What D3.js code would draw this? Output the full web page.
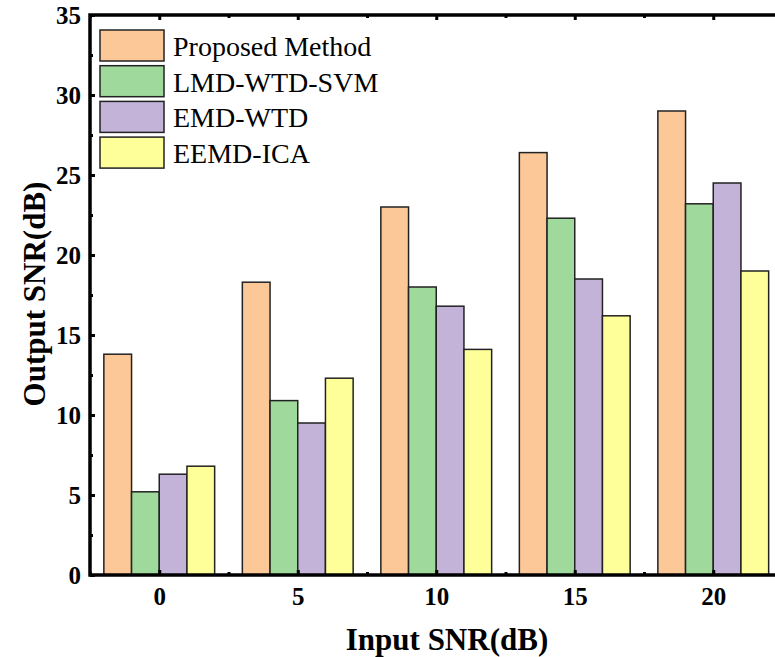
<!DOCTYPE html>
<html>
<head>
<meta charset="utf-8">
<script src="https://cdn.jsdelivr.net/npm/d3@7"></script>
<style>
  body { margin: 0; background: #fff; }
  svg { display: block; }
  text { font-family: 'Liberation Serif', 'Times New Roman', serif; }
</style>
</head>
<body>
<svg id="chart" width="775" height="657"></svg>
<script>
// input SNR (x categories)
var inputSNR = [0, 5, 10, 15, 20]
var methods = ['Proposed Method', 'LMD-WTD-SVM', 'EMD-WTD', 'EEMD-ICA']
var colors = ['#fdc898', '#9fd99c', '#c3b3d9', '#ffff99']

// output SNR per method
var proposed = [13.8, 18.3, 23.0, 26.4, 29.0]
var lmdWtdSvm = [5.2, 10.9, 18.0, 22.3, 23.2]
var emdWtd = [6.3, 9.5, 16.8, 18.5, 24.5]
var eemdIca = [6.8, 12.3, 14.1, 16.2, 19.0]
var series = [proposed, lmdWtdSvm, emdWtd, eemdIca]

var yTicks = [0, 5, 10, 15, 20, 25, 30, 35]
var xTicks = [0, 5, 10, 15, 20]

var svg = d3.select('#chart')
var plotLeft = 90, plotTop = 15, plotBottom = 575
var x = d3.scaleLinear().domain([-2.5, 22.5]).range([plotLeft, plotLeft + 692.5])
var y = d3.scaleLinear().domain([0, 35]).range([plotBottom, plotTop])

// bars: each bar 1 unit wide, group spans -2..2 around the category
var barW = 1
series.forEach(function(vals, si) {
  svg.append('g')
    .selectAll('rect')
    .data(vals)
    .enter()
    .append('rect')
    .attr('x', function(d, i) { return x(inputSNR[i] - 2 + si * barW) })
    .attr('y', function(d) { return y(d) })
    .attr('width', x(barW) - x(0))
    .attr('height', function(d) { return y(0) - y(d) })
    .attr('fill', colors[si])
    .attr('stroke', '#222')
    .attr('stroke-width', 1.5)
})

// axes with inward ticks
function styleAxis(g) {
  g.select('.domain').remove()
  g.selectAll('.tick line').attr('stroke', '#000').attr('stroke-width', 3)
  g.selectAll('.tick text')
    .attr('font-size', 25)
    .attr('font-weight', 'bold')
    .attr('font-family', "'Liberation Serif', serif")
    .attr('fill', '#000')
}
var minorX = d3.range(-2.5, 23, 2.5).filter(function(v) { return v % 5 != 0 })
var minorY = d3.range(2.5, 35, 5)

var gx = svg.append('g')
  .attr('transform', 'translate(0,' + plotBottom + ')')
  .call(d3.axisBottom(x).tickValues(xTicks).tickSize(-5).tickPadding(11).tickFormat(d3.format('d')))
gx.call(styleAxis)
gx.selectAll('.tick text').attr('dy', '0.75em')

svg.append('g')
  .attr('transform', 'translate(0,' + plotBottom + ')')
  .call(d3.axisBottom(x).tickValues(minorX).tickSize(-3).tickFormat(''))
  .call(styleAxis)

svg.append('g')
  .attr('transform', 'translate(0,' + plotTop + ')')
  .call(d3.axisTop(x).tickValues(xTicks).tickSize(-5).tickFormat(''))
  .call(styleAxis)
svg.append('g')
  .attr('transform', 'translate(0,' + plotTop + ')')
  .call(d3.axisTop(x).tickValues(minorX).tickSize(-3).tickFormat(''))
  .call(styleAxis)

var gy = svg.append('g')
  .attr('transform', 'translate(' + plotLeft + ',0)')
  .call(d3.axisLeft(y).tickValues(yTicks).tickSize(-5).tickPadding(9))
gy.call(styleAxis)
gy.selectAll('.tick text').attr('dy', '0.35em')

svg.append('g')
  .attr('transform', 'translate(' + plotLeft + ',0)')
  .call(d3.axisLeft(y).tickValues(minorY).tickSize(-3).tickFormat(''))
  .call(styleAxis)

// frame
svg.append('rect')
  .attr('x', x.range()[0])
  .attr('y', plotTop)
  .attr('width', x.range()[1] - x.range()[0])
  .attr('height', plotBottom - plotTop)
  .attr('fill', 'none')
  .attr('stroke', '#000')
  .attr('stroke-width', 3.5)

// legend
var legend = svg.append('g').attr('transform', 'translate(100,30)')
methods.forEach(function(m, i) {
  legend.append('rect')
    .attr('x', 0)
    .attr('y', i * 35.7)
    .attr('width', 64)
    .attr('height', 31)
    .attr('fill', colors[i])
    .attr('stroke', '#222')
    .attr('stroke-width', 1.5)
  legend.append('text')
    .attr('x', 73)
    .attr('y', i * 35.7 + 16)
    .attr('dy', '0.35em')
    .attr('font-size', 28)
    .text(m)
})

// axis titles
svg.append('text')
  .attr('x', 447)
  .attr('y', 650)
  .attr('text-anchor', 'middle')
  .attr('font-size', 31)
  .attr('font-weight', 'bold')
  .text('Input SNR(dB)')

svg.append('text')
  .attr('transform', 'translate(45,' + 294 + ') rotate(-90)')
  .attr('text-anchor', 'middle')
  .attr('font-size', 31)
  .attr('font-weight', 'bold')
  .text('Output SNR(dB)')
</script>
</body>
</html>
